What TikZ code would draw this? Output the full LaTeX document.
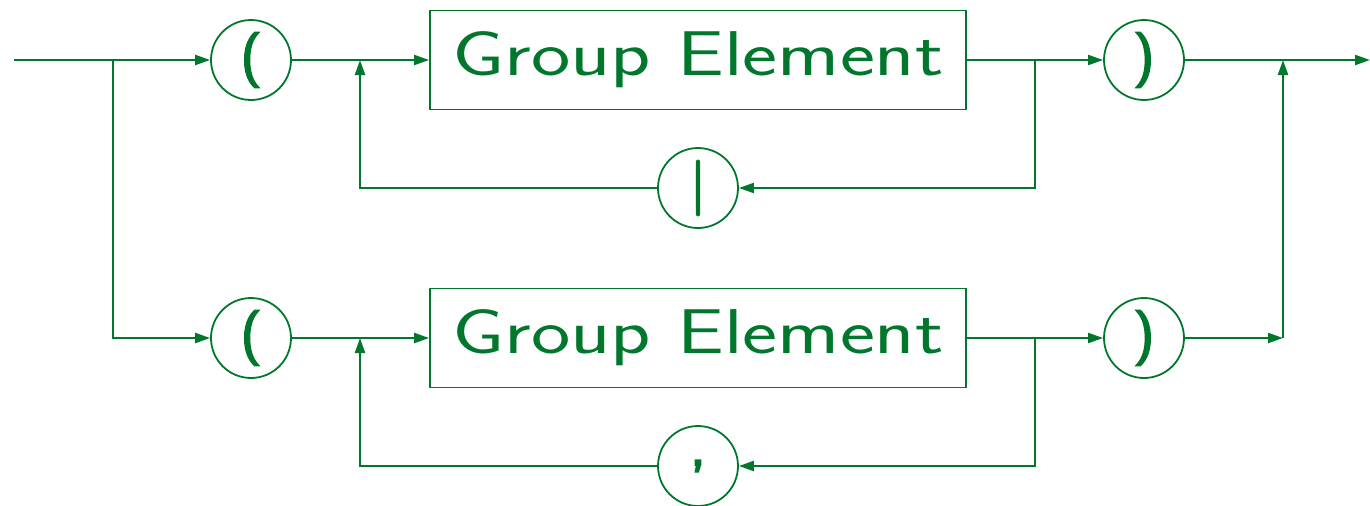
\documentclass[tikz,border=0pt]{standalone}
\usepackage{graphicx}
\usepackage{fontspec}
\newfontfamily\symfont[FakeBold=4]{Latin Modern Sans}
\usetikzlibrary{arrows.meta}
\definecolor{rrgreen}{RGB}{0,119,45}
\tikzset{
  line/.style={draw=rrgreen, line width=2.2*0.02cm},
  arr/.style={line, -{Triangle[length=0.3cm,width=0.2cm]}},
  termc/.style={circle, draw=rrgreen, line width=1.8*0.02cm, minimum size=1.6cm, inner sep=0pt,
    text=rrgreen, font=\fontsize{31}{34}\selectfont\symfont},
  ntbox/.style={rectangle, draw=rrgreen, line width=1.8*0.02cm, minimum width=536*0.02cm,
    minimum height=99*0.02cm, inner sep=0pt, text=rrgreen, font=\fontsize{36}{40}\selectfont\sffamily}
}
\begin{document}
\begin{tikzpicture}[x=0.02cm, y=-0.02cm]
\useasboundingbox (0,0) rectangle (1370,505);
% coordinates
\coordinate (start) at (14,60);
\coordinate (j1) at (113,60);
\coordinate (j2) at (360,60);
\coordinate (j2b) at (360,338);
\coordinate (j3) at (1035,60);
\coordinate (j3b) at (1035,338);
\coordinate (j4) at (1283,60);
\coordinate (j4b) at (1283,338);
\coordinate (end) at (1370,60);
% nodes
\node[termc] (c1) at (251,60) {(};
\node[termc] (c2) at (251,338) {(};
\node[ntbox] (b1) at (698,60) {\scalebox{1.32}[1]{Group Element}};
\node[ntbox] (b2) at (698,338) {\scalebox{1.32}[1]{Group Element}};
\node[termc] (bar) at (698,188) {|};
\node[termc] (comma) at (698,466) {,};
\node[termc] (c3) at (1144,60) {)};
\node[termc] (c4) at (1144,338) {)};
% top row
\draw[arr] (start) -- (c1);
\draw[arr] (j1) |- (c2);
\draw[arr] (c1) -- (b1);
\draw[arr] (b1) -- (c3);
\draw[arr] (j3) |- (bar);
\draw[arr] (bar) -| (j2);
\draw[arr] (c3) -- (end);
% bottom row
\draw[arr] (c2) -- (b2);
\draw[arr] (b2) -- (c4);
\draw[arr] (j3b) |- (comma);
\draw[arr] (comma) -| (j2b);
\draw[arr] (c4) -- (j4b);
\draw[arr] (j4b) -- (j4);
\end{tikzpicture}
\end{document}
